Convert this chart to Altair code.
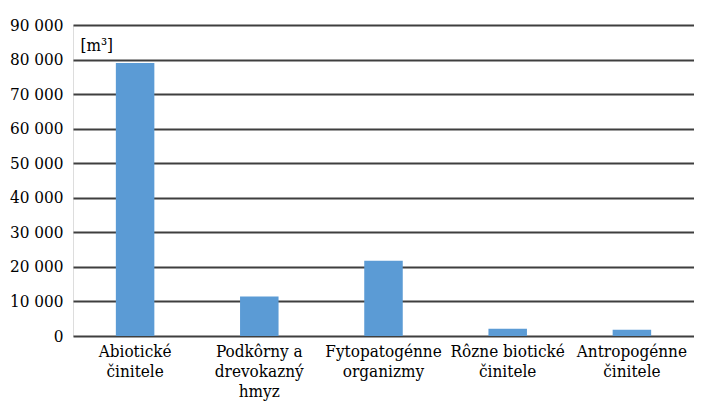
import altair as alt
import pandas as pd

categories = ["Abiotické|činitele", "Podkôrny a|drevokazný|hmyz", "Fytopatogénne|organizmy",
              "Rôzne biotické|činitele", "Antropogénne|činitele"]
values = [79000, 11400, 21800, 2100, 1800]

df = pd.DataFrame({"cat": categories, "val": values})

FONT = "DejaVu Serif Condensed"
FS = 17

chart = alt.Chart(df).mark_bar(color="#5B9BD5").encode(
    x=alt.X("cat:N", sort=None,
            scale=alt.Scale(paddingInner=0.69, paddingOuter=0.345),
            axis=alt.Axis(title=None, labelAngle=0, labelExpr="split(datum.label, '|')",
                          labelFont=FONT, labelFontSize=FS, labelLineHeight=20,
                          labelColor="#000000", labelPadding=7, ticks=False, domain=False,
                          labelBaseline="top")),
    y=alt.Y("val:Q", scale=alt.Scale(domain=[0, 90000]),
            axis=alt.Axis(title="[m³]", titleAngle=0, titleX=7, titleY=12, titleAlign="left",
                          titleBaseline="top", titleFont=FONT, titleFontSize=FS,
                          titleFontWeight="normal", titleColor="#000000",
                          values=list(range(0, 90001, 10000)),
                          labelExpr="replace(format(datum.value, ','), ',', ' ')",
                          labelFont=FONT, labelFontSize=FS, labelColor="#000000",
                          labelPadding=10, ticks=False, domain=False,
                          grid=True, gridColor="#3f3f3f", gridWidth=2)),
).properties(
    width=621, height=311,
    autosize=alt.AutoSizeParams(type="none"),
    padding={"left": 65, "top": 17, "right": 0, "bottom": 68},
).configure_view(stroke=None).configure(background="white")

chart.save("out.html", embed_options={"renderer": "svg", "actions": False})
